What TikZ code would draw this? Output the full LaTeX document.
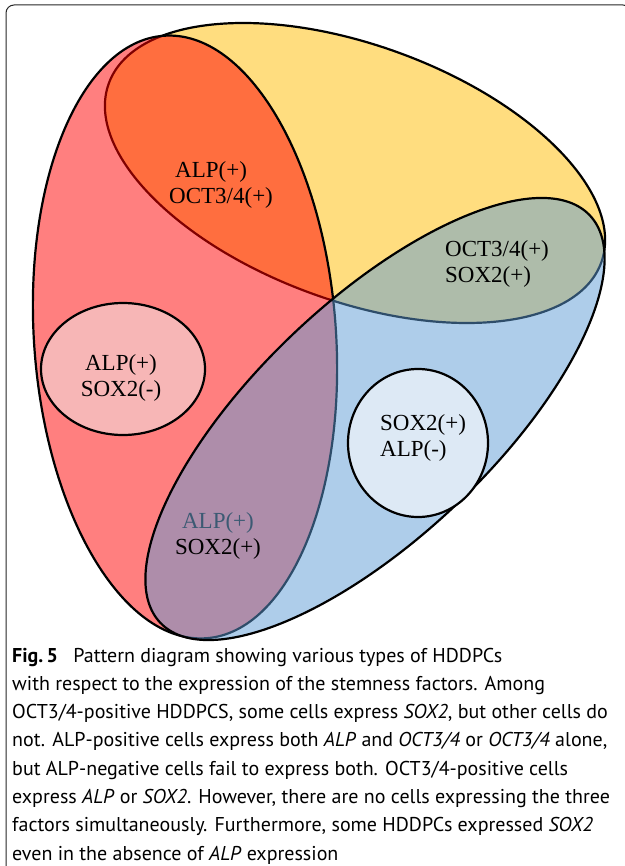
\documentclass[tikz,border=0pt]{standalone}
\usepackage{fontspec}
\setmainfont{Liberation Serif}
\newfontfamily\capfont{PT Sans}
\definecolor{octgold}{RGB}{255,188,0}
\definecolor{alpred}{RGB}{255,0,0}
\definecolor{soxblue}{RGB}{93,155,213}
\definecolor{pinkcell}{RGB}{247,182,182}
\definecolor{bluecell}{RGB}{221,233,245}
\definecolor{alptext}{RGB}{60,90,115}
\begin{document}
\begin{tikzpicture}[x=1pt,y=-1pt,
rim/.style={line width=2.2pt},
factor/.style={rim, fill opacity=0.5},
celltext/.style={inner sep=0pt, font=\fontsize{23}{26}\selectfont}
]
\useasboundingbox (0,0) rectangle (624,866);
\draw[line width=1pt, black!85, rounded corners=8pt] (6,880) -- (6,5) -- (631,5) -- (631,880);

% OCT3/4, ALP, SOX2 (in this order, half transparent)
\draw[factor, fill=octgold, rotate around={-20:(355,173)}] (355,173) ellipse [x radius=262, y radius=128];
\draw[factor, fill=alpred, rotate around={4:(185,337)}] (185,337) ellipse [x radius=151, y radius=302];
\draw[factor, fill=soxblue, rotate around={43.5:(375,419)}] (375,419) ellipse [x radius=296, y radius=118];

\draw[rim, fill=pinkcell] (123,369) ellipse [x radius=82, y radius=66];
\draw[rim, fill=bluecell] (418,443) ellipse [x radius=70, y radius=74];

\node[celltext, anchor=west, align=left] (alpoct) at (169,185) {\hspace{6pt}ALP(+)\\OCT3/4(+)};
\node[celltext, anchor=west, align=left] (octsox) at (445,264) {OCT3/4(+)\\SOX2(+)};
\node[celltext, align=center] (alponly) at (121,378) {ALP(+)\\SOX2(-)};
\node[celltext, anchor=west, align=left] (soxonly) at (380,438) {SOX2(+)\\ALP(-)};
\node[celltext, align=center] (alpsox) at (218,536) {\textcolor{alptext}{ALP(+)}\\SOX2(+)};

\node[inner sep=0pt, anchor=west, align=left, font=\capfont\fontsize{20}{28.3}\selectfont] (caption) at (12,756)
{\textbf{Fig.\,5}\hspace{0.5em} Pattern diagram showing various types of HDDPCs\\
with respect to the expression of the stemness factors. Among\\
OCT3/4-positive HDDPCS, some cells express \textit{SOX2}, but other cells do\\
not. ALP-positive cells express both \textit{ALP} and \textit{OCT3/4} or \textit{OCT3/4} alone,\\
but ALP-negative cells fail to express both. OCT3/4-positive cells\\
express \textit{ALP} or \textit{SOX2}. However, there are no cells expressing the three\\
factors simultaneously. Furthermore, some HDDPCs expressed \textit{SOX2}\\
even in the absence of \textit{ALP} expression};
\end{tikzpicture}
\end{document}
